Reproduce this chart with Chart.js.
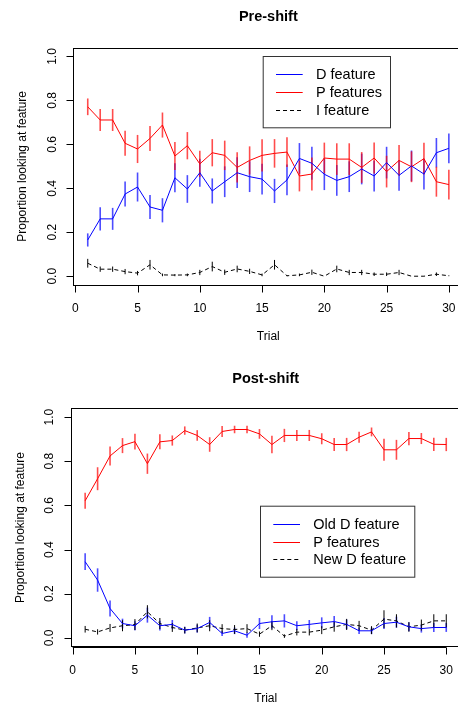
<!DOCTYPE html>
<html>
<head>
<meta charset="utf-8">
<script src="https://cdn.jsdelivr.net/npm/chart.js@4.4.1/dist/chart.umd.min.js"></script>
<style>
html, body { margin: 0; padding: 0; background: #fff; overflow: hidden; width: 458px; height: 704px; }
.wrap { width: 470px; height: 352px; }
canvas { display: block; }
</style>
</head>
<body>
<div class="wrap"><canvas id="preCanvas"></canvas></div>
<div class="wrap"><canvas id="postCanvas"></canvas></div>
<script>
const trials = [1,2,3,4,5,6,7,8,9,10,11,12,13,14,15,16,17,18,19,20,21,22,23,24,25,26,27,28,29,30];
const xTicks = [0, 5, 10, 15, 20, 25, 30];
const yTicks = [0, 0.2, 0.4, 0.6, 0.8, 1.0];

// Pre-shift
const preD = [0.165,0.261,0.261,0.374,0.406,0.315,0.300,0.448,0.397,0.471,0.388,0.430,0.471,0.453,0.442,
              0.388,0.438,0.536,0.514,0.464,0.436,0.453,0.488,0.456,0.517,0.459,0.502,0.465,0.562,0.582];
const preDErr = [0.030,0.053,0.050,0.057,0.066,0.055,0.055,0.066,0.063,0.064,0.057,0.070,0.070,0.070,0.070,
                 0.055,0.070,0.070,0.075,0.072,0.070,0.070,0.070,0.070,0.072,0.070,0.070,0.070,0.067,0.068];
const preP = [0.771,0.711,0.711,0.605,0.579,0.627,0.688,0.547,0.594,0.511,0.562,0.550,0.495,0.527,0.550,
              0.559,0.565,0.456,0.465,0.538,0.533,0.533,0.495,0.538,0.476,0.527,0.498,0.535,0.430,0.417];
const prePErr = [0.038,0.050,0.050,0.057,0.064,0.057,0.057,0.064,0.062,0.060,0.062,0.067,0.069,0.064,0.073,
                 0.065,0.068,0.070,0.075,0.070,0.072,0.072,0.070,0.070,0.072,0.070,0.070,0.072,0.068,0.068];
const preI = [0.059,0.032,0.032,0.021,0.014,0.052,0.006,0.005,0.006,0.017,0.044,0.018,0.033,0.022,0.006,
              0.052,0.002,0.006,0.018,0.000,0.033,0.017,0.017,0.009,0.009,0.017,0.000,0.000,0.009,0.002];
const preIErr = [0.020,0.012,0.012,0.012,0.010,0.022,0.006,0.005,0.006,0.012,0.022,0.012,0.015,0.012,0.006,
                 0.022,0.002,0.006,0.012,0.000,0.015,0.012,0.012,0.008,0.008,0.012,0.000,0.000,0.008,0.002];

// Post-shift
const postOldD = [0.345,0.262,0.133,0.065,0.055,0.103,0.055,0.061,0.035,0.042,0.070,0.020,0.032,0.012,0.065,
                  0.073,0.077,0.055,0.061,0.068,0.074,0.061,0.032,0.032,0.065,0.071,0.050,0.042,0.047,0.047];
const postOldDErr = [0.038,0.053,0.036,0.022,0.020,0.034,0.022,0.020,0.015,0.018,0.025,0.012,0.015,0.012,0.025,
                     0.030,0.030,0.020,0.020,0.025,0.025,0.022,0.015,0.015,0.025,0.025,0.020,0.018,0.020,0.020];
const postP = [0.621,0.721,0.824,0.871,0.889,0.789,0.888,0.894,0.939,0.917,0.876,0.935,0.944,0.944,0.924,
               0.876,0.917,0.917,0.917,0.902,0.876,0.876,0.909,0.933,0.852,0.852,0.903,0.903,0.877,0.876];
const postPErr = [0.036,0.052,0.043,0.034,0.036,0.046,0.034,0.023,0.019,0.024,0.033,0.025,0.017,0.017,0.022,
                  0.040,0.030,0.025,0.025,0.025,0.030,0.030,0.025,0.020,0.050,0.045,0.030,0.025,0.030,0.030];
const postNewD = [0.039,0.027,0.045,0.055,0.060,0.118,0.065,0.047,0.035,0.045,0.055,0.042,0.038,0.042,0.017,
                  0.055,0.008,0.026,0.026,0.035,0.050,0.061,0.055,0.035,0.085,0.077,0.050,0.058,0.077,0.077];
const postNewDErr = [0.015,0.012,0.018,0.025,0.025,0.030,0.025,0.020,0.015,0.020,0.025,0.020,0.020,0.020,0.012,
                     0.020,0.008,0.015,0.015,0.018,0.022,0.025,0.022,0.018,0.040,0.030,0.022,0.025,0.030,0.030];

const FONT = '"Liberation Sans", Arial, Helvetica, sans-serif';

function series(label, vals, errs, color, barColor, dashed) {
  return {
    label,
    data: trials.map((t, i) => ({ x: t, y: vals[i] })),
    errs,
    barColor,
    borderColor: color,
    borderWidth: 1,
    borderDash: dashed ? [4, 3] : [],
    pointRadius: 0,
    tension: 0,
    fill: false
  };
}

// error bars, drawn under the lines
const errorBars = {
  id: 'errorBars',
  beforeDatasetsDraw(chart) {
    const c = chart.ctx, xs = chart.scales.x, ys = chart.scales.y;
    chart.data.datasets.forEach(ds => {
      c.save();
      c.strokeStyle = ds.barColor;
      c.lineWidth = ds.barColor === '#000' ? 1 : 1.6;
      ds.data.forEach((p, i) => {
        const e = ds.errs[i];
        if (!e) return;
        const px = xs.getPixelForValue(p.x);
        c.beginPath();
        c.moveTo(px, ys.getPixelForValue(p.y - e));
        c.lineTo(px, ys.getPixelForValue(p.y + e));
        c.stroke();
      });
      c.restore();
    });
  }
};

// R-style frame, axes, titles and legend
const rFrame = {
  id: 'rFrame',
  afterDraw(chart, args, o) {
    const c = chart.ctx, a = chart.chartArea, xs = chart.scales.x, ys = chart.scales.y;
    c.save();
    c.strokeStyle = '#000';
    c.lineWidth = 1;
    c.strokeRect(Math.round(a.left) + 0.5, Math.round(a.top) + 0.5,
                 Math.round(a.right - a.left), Math.round(a.bottom - a.top));
    c.fillStyle = '#000';
    c.font = '12px ' + FONT;
    c.textAlign = 'center';
    c.textBaseline = 'middle';
    const bx = Math.round(a.bottom) + 0.5;
    c.beginPath();
    c.moveTo(xs.getPixelForValue(xTicks[0]), bx);
    c.lineTo(xs.getPixelForValue(xTicks[xTicks.length - 1]), bx);
    xTicks.forEach(t => {
      const px = Math.round(xs.getPixelForValue(t)) + 0.5;
      c.moveTo(px, bx);
      c.lineTo(px, bx + 7);
    });
    c.stroke();
    xTicks.forEach(t => c.fillText(String(t), xs.getPixelForValue(t), a.bottom + 23.5));
    c.fillText('Trial', (a.left + a.right) / 2, a.bottom + 52);

    const lx = Math.round(a.left) + 0.5;
    c.beginPath();
    yTicks.forEach(t => {
      const py = Math.round(ys.getPixelForValue(t)) + 0.5;
      c.moveTo(lx, py);
      c.lineTo(lx - 7, py);
    });
    c.stroke();
    yTicks.forEach(t => {
      c.save();
      c.translate(a.left - 21, ys.getPixelForValue(t));
      c.rotate(-Math.PI / 2);
      c.fillText(t.toFixed(1), 0, 0);
      c.restore();
    });
    c.save();
    c.translate(o.yTitleX, (a.top + a.bottom) / 2);
    c.rotate(-Math.PI / 2);
    c.fillText('Proportion looking at feature', 0, 0);
    c.restore();

    c.font = 'bold 14.5px ' + FONT;
    c.fillText(o.title, (a.left + a.right) / 2, o.titleY);

    const L = o.legend;
    c.strokeStyle = '#333';
    c.strokeRect(L.x + 0.5, L.y + 0.5, L.w, L.h);
    c.font = '14.5px ' + FONT;
    c.textAlign = 'left';
    chart.data.datasets.forEach((ds, i) => {
      const ry = Math.round(L.y + L.rowY[i]) + 0.5;
      c.strokeStyle = ds.borderColor;
      c.setLineDash(ds.borderDash);
      c.beginPath();
      c.moveTo(L.x + L.lineX[0], ry);
      c.lineTo(L.x + L.lineX[1], ry);
      c.stroke();
      c.setLineDash([]);
      c.fillStyle = '#000';
      c.fillText(ds.label, L.x + L.textX, ry);
    });
    c.restore();
  }
};

function makeChart(id, datasets, opts) {
  const canvas = document.getElementById(id);
  canvas.width = 470;
  canvas.height = 352;
  return new Chart(canvas.getContext('2d'), {
    type: 'line',
    data: { datasets },
    options: {
      responsive: false,
      animation: false,
      events: [],
      layout: { padding: opts.padding },
      scales: {
        x: { type: 'linear', min: -0.16, max: 31.16, display: false },
        y: { type: 'linear', min: -0.04, max: 1.04, display: false }
      },
      plugins: {
        legend: { display: false },
        tooltip: { enabled: false },
        rFrame: opts.frame
      }
    },
    plugins: [errorBars, rFrame]
  });
}

makeChart('preCanvas', [
  series('D feature', preD, preDErr, '#0000ff', 'rgba(0,0,255,0.7)', false),
  series('P features', preP, prePErr, '#ff0000', 'rgba(255,0,0,0.7)', false),
  series('I feature', preI, preIErr, '#000', '#000', true)
], {
  padding: { left: 73.3, right: 6.7, top: 47.7, bottom: 67 },
  frame: {
    title: 'Pre-shift', titleY: 16.7, yTitleX: 22.7,
    legend: { x: 262.7, y: 56, w: 127.3, h: 71.3, rowY: [18.3, 36.3, 54], lineX: [13.3, 40], textX: 53.3 }
  }
});

makeChart('postCanvas', [
  series('Old D feature', postOldD, postOldDErr, '#0000ff', 'rgba(0,0,255,0.7)', false),
  series('P features', postP, postPErr, '#ff0000', 'rgba(255,0,0,0.7)', false),
  series('New D feature', postNewD, postNewDErr, '#000', '#000', true)
], {
  padding: { left: 70.7, right: 9.3, top: 56.3, bottom: 57.3 },
  frame: {
    title: 'Post-shift', titleY: 27, yTitleX: 20.5,
    legend: { x: 260, y: 153.7, w: 154.3, h: 71, rowY: [18.3, 36, 53.3], lineX: [13.3, 40], textX: 53.3 }
  }
});
</script>
</body>
</html>
